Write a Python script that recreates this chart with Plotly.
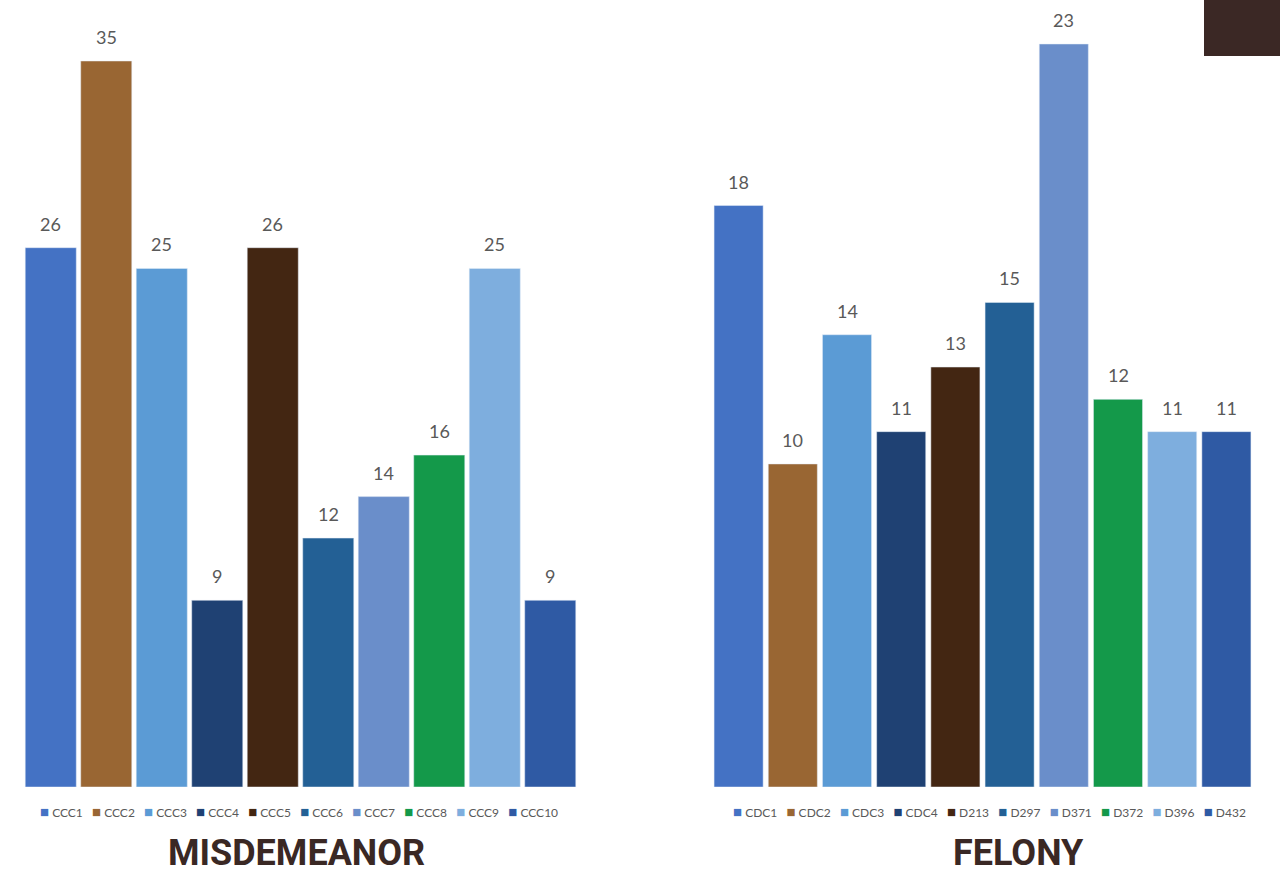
import plotly.graph_objects as go

# ---- data ----
misd_labels = ["CCC1", "CCC2", "CCC3", "CCC4", "CCC5", "CCC6", "CCC7", "CCC8", "CCC9", "CCC10"]
misd_values = [26, 35, 25, 9, 26, 12, 14, 16, 25, 9]
fel_labels = ["CDC1", "CDC2", "CDC3", "CDC4", "D213", "D297", "D371", "D372", "D396", "D432"]
fel_values = [18, 10, 14, 11, 13, 15, 23, 12, 11, 11]
colors = ["#4472C4", "#996633", "#5B9BD5", "#1F4173", "#432612",
          "#236095", "#6A8ECA", "#14994A", "#7EAEDE", "#2F5AA4"]
titles = ["MISDEMEANOR", "FELONY"]

W, H = 1280, 876
base_px = 787

fig = go.Figure()
fig.add_trace(go.Bar(x=list(range(10)), y=misd_values, marker_color=colors, width=0.92,
                     xaxis="x", yaxis="y", showlegend=False,
                     hovertext=misd_labels))
fig.add_trace(go.Bar(x=list(range(10)), y=fel_values, marker_color=colors, width=0.905,
                     xaxis="x2", yaxis="y2", showlegend=False,
                     hovertext=fel_labels))

label_font = dict(family="Lato, Roboto, sans-serif", size=18, color="#595959")
annotations = []
for i, v in enumerate(misd_values):
    annotations.append(dict(x=i, y=v, xref="x", yref="y", text=str(v), showarrow=False,
                            yanchor="bottom", yshift=11, font=label_font))
for i, v in enumerate(fel_values):
    annotations.append(dict(x=i, y=v, xref="x2", yref="y2", text=str(v), showarrow=False,
                            yanchor="bottom", yshift=11, font=label_font))

# custom legends
def legend_text(labels):
    parts = []
    for lab, c in zip(labels, colors):
        parts.append(f"<span style='color:{c};font-size:15px'>■</span>\u00a0{lab}")
    return ("\u00a0" * 3).join(parts)

leg_font = dict(family="Lato, Roboto, sans-serif", size=12, color="#595959")
annotations.append(dict(x=299 / W, y=(H - 811) / H, xref="paper", yref="paper",
                        text=legend_text(misd_labels), showarrow=False,
                        xanchor="center", yanchor="middle", font=leg_font))
annotations.append(dict(x=989 / W, y=(H - 811) / H, xref="paper", yref="paper",
                        text=legend_text(fel_labels), showarrow=False,
                        xanchor="center", yanchor="middle", font=leg_font))

title_font = dict(family="Roboto, sans-serif", size=36, color="#3A2824", weight="bold")
annotations.append(dict(x=296 / W, y=0, xref="paper", yref="paper",
                        text="<b>" + titles[0] + "</b>", showarrow=False,
                        xanchor="center", yanchor="bottom", font=title_font))
annotations.append(dict(x=1018 / W, y=0, xref="paper", yref="paper",
                        text="<b>" + titles[1] + "</b>", showarrow=False,
                        xanchor="center", yanchor="bottom", font=title_font))

ydom = [(H - base_px) / H, 1]
hidden = dict(showgrid=False, zeroline=False, showline=False, showticklabels=False, ticks="")

fig.update_layout(
    width=W, height=H,
    margin=dict(l=0, r=0, t=0, b=0),
    paper_bgcolor="white", plot_bgcolor="white",
    xaxis=dict(domain=[23 / W, 578 / W], range=[-0.5, 9.5], **hidden),
    xaxis2=dict(domain=[711.5 / W, 1253.5 / W], range=[-0.5, 9.5], **hidden),
    yaxis=dict(domain=ydom, range=[0, 35 * base_px / 726], anchor="x", **hidden),
    yaxis2=dict(domain=ydom, range=[0, 23 * base_px / 743], anchor="x2", **hidden),
    annotations=annotations,
    shapes=[dict(type="rect", xref="paper", yref="paper", x0=1204 / W, x1=1,
                 y0=(H - 56) / H, y1=1, fillcolor="#3B2825", line=dict(width=0),
                 layer="above")],
)

fig.write_html("out.html")
